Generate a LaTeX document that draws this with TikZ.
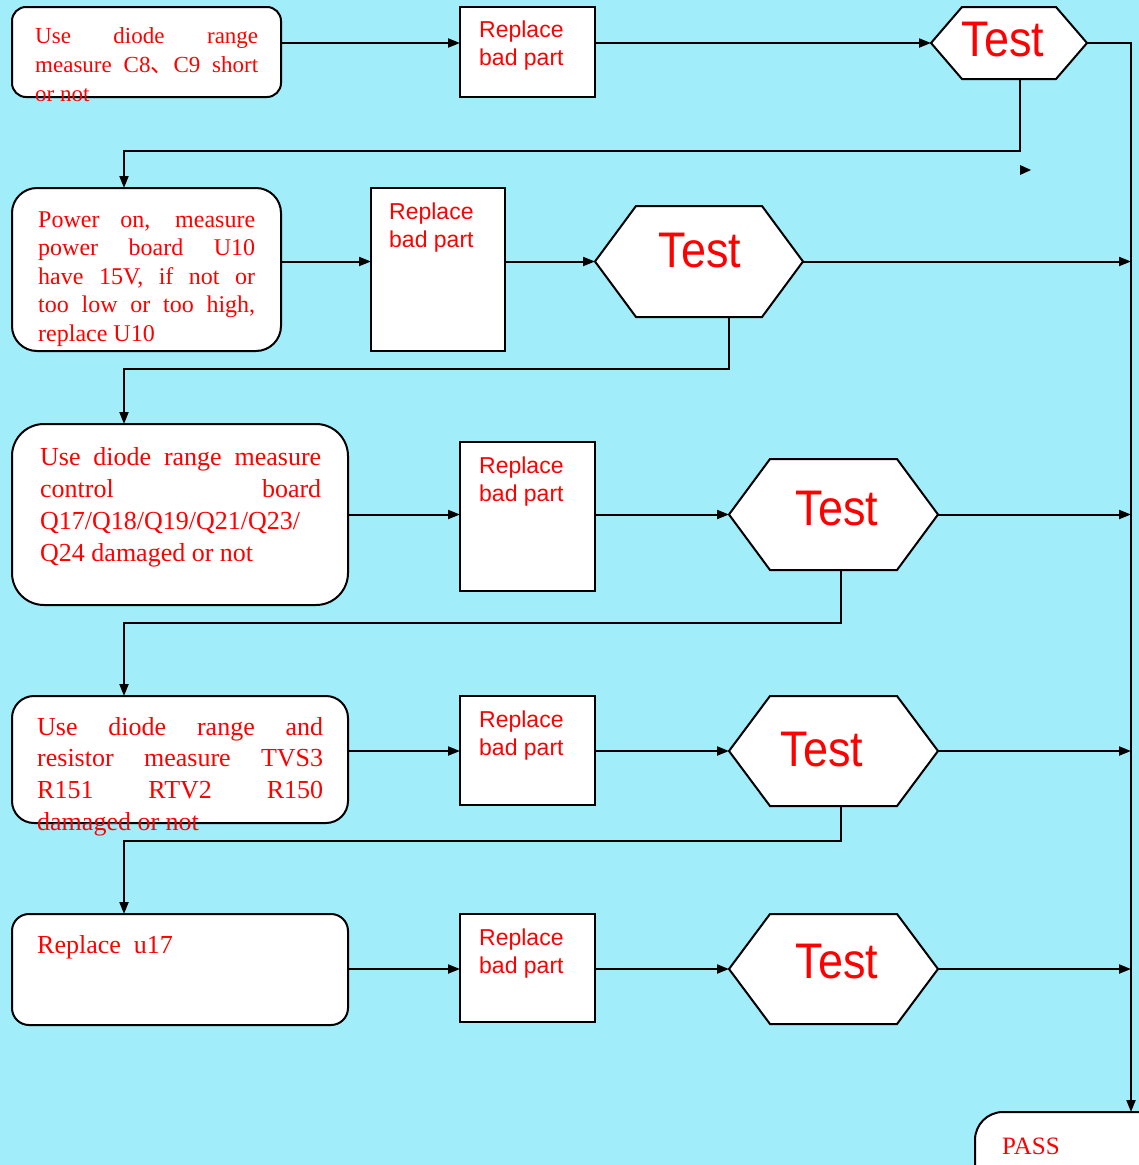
\documentclass[tikz,border=0pt]{standalone}
\usepackage{fontspec}
\setmainfont{Liberation Serif}
\newfontfamily\sansf{Liberation Sans}
\newfontfamily\testf[FakeStretch=0.9]{Liberation Sans}
\newfontfamily\cjkf{Noto Sans CJK SC}
\usetikzlibrary{arrows.meta,calc}
\definecolor{bgc}{RGB}{161,237,250}
\newcommand\hexdraw[2]{%
  \draw[fill=white,line width=2pt,line join=miter] (#1.west) -- ($(#1.north west)+(#2,0)$) -- ($(#1.north east)+(-#2,0)$) -- (#1.east) -- ($(#1.south east)+(-#2,0)$) -- ($(#1.south west)+(#2,0)$) -- cycle;}
\tikzset{
  box/.style={draw=black, fill=white, line width=2pt, rounded corners=#1, inner sep=0pt, outer sep=0pt, anchor=north west},
  repbox/.style={draw=black, fill=white, line width=2pt, inner sep=0pt, outer sep=0pt, anchor=north west},
  hexnode/.style={inner sep=0pt, outer sep=0pt, anchor=north west},
  conn/.style={draw=black, line width=2pt, -{Triangle[length=12pt,width=9pt]}},
  btext/.style={text=red, inner sep=0pt, anchor=base west},
  rtext/.style={text=red, inner sep=0pt, anchor=base west, font=\sansf\fontsize{23}{28}\selectfont},
  ttext/.style={text=red, inner sep=0pt, anchor=center, font=\testf\fontsize{50}{50}\selectfont},
}
\begin{document}
\begin{tikzpicture}[x=1pt,y=-1pt]
\fill[bgc] (0,0) rectangle (1139,1165);
\useasboundingbox (0,0) rectangle (1139,1165);
\clip (0,0) rectangle (1139,1165);

% row 1
\node[box=14pt, minimum width=269pt, minimum height=90pt] (b1) at (12,7) {};
\node[repbox, minimum width=135pt, minimum height=90pt] (r1) at (460,7) {};
\node[hexnode, minimum width=156pt, minimum height=72pt] (t1) at (931,7) {};
\hexdraw{t1}{31}
% row 2
\node[box=25pt, minimum width=269pt, minimum height=163pt] (b2) at (12,188) {};
\node[repbox, minimum width=134pt, minimum height=163pt] (r2) at (371,188) {};
\node[hexnode, minimum width=208pt, minimum height=111pt] (t2) at (595,206) {};
\hexdraw{t2}{41}
% row 3
\node[box=32pt, minimum width=336pt, minimum height=181pt] (b3) at (12,424) {};
\node[repbox, minimum width=135pt, minimum height=149pt] (r3) at (460,442) {};
\node[hexnode, minimum width=209pt, minimum height=111pt] (t3) at (729,459) {};
\hexdraw{t3}{41}
% row 4
\node[box=22pt, minimum width=336pt, minimum height=127pt] (b4) at (12,696) {};
\node[repbox, minimum width=135pt, minimum height=109pt] (r4) at (460,696) {};
\node[hexnode, minimum width=209pt, minimum height=110pt] (t4) at (729,696) {};
\hexdraw{t4}{41}
% row 5
\node[box=17pt, minimum width=336pt, minimum height=111pt] (b5) at (12,914) {};
\node[repbox, minimum width=135pt, minimum height=108pt] (r5) at (460,914) {};
\node[hexnode, minimum width=209pt, minimum height=110pt] (t5) at (729,914) {};
\hexdraw{t5}{41}
% pass
\node[box=28pt, minimum width=230pt, minimum height=90pt] (pass) at (975,1112) {};

% texts
\node[btext, font=\fontsize{23}{29}\selectfont] (x1) at (35,43) {\parbox[t]{223pt}{\makebox[223pt][s]{Use diode range}\\\makebox[223pt][s]{measure C8{\cjkf 、}C9 short}\\or not}};
\node[btext, font=\fontsize{24}{28.5}\selectfont] (x2) at (38,227) {\parbox[t]{217pt}{\makebox[217pt][s]{Power on, measure}\\\makebox[217pt][s]{power board U10}\\\makebox[217pt][s]{have 15V, if not or}\\\makebox[217pt][s]{too low or too high,}\\replace U10}};
\node[btext, font=\fontsize{26}{32.3}\selectfont] (x3) at (40,465) {\parbox[t]{281pt}{\makebox[281pt][s]{Use diode range measure}\\\makebox[281pt][s]{control board}\\Q17/Q18/Q19/Q21/Q23/\\Q24 damaged or not}};
\node[btext, font=\fontsize{26}{31.7}\selectfont] (x4) at (37,735) {\parbox[t]{286pt}{\makebox[286pt][s]{Use diode range and}\\\makebox[286pt][s]{resistor measure TVS3}\\\makebox[286pt][s]{R151 RTV2 R150}\\damaged or not}};
\node[btext, font=\fontsize{26}{31}\selectfont] (x5) at (37,953) {Replace~ u17};
\node[btext, font=\fontsize{25}{30}\selectfont] (xp) at (1002,1154) {PASS};

\node[rtext] (y1) at (479,37) {\parbox[t]{110pt}{Replace\\bad part}};
\node[rtext] (y2) at (389,219) {\parbox[t]{110pt}{Replace\\bad part}};
\node[rtext] (y3) at (479,473) {\parbox[t]{110pt}{Replace\\bad part}};
\node[rtext] (y4) at (479,727) {\parbox[t]{110pt}{Replace\\bad part}};
\node[rtext] (y5) at (479,945) {\parbox[t]{110pt}{Replace\\bad part}};

\node[ttext] (z1) at (1003,40) {Test};
\node[ttext] (z2) at (700,251) {Test};
\node[ttext] (z3) at (837,509) {Test};
\node[ttext] (z4) at (822,750) {Test};
\node[ttext] (z5) at (837,962) {Test};

% coordinates
\coordinate (rt) at (1131,43);
\coordinate (j1) at (1020,151);
\coordinate (k1) at (124,151);
\coordinate (j2) at (729,369);
\coordinate (k2) at (124,369);
\coordinate (j3) at (841,623);
\coordinate (k3) at (124,623);
\coordinate (j4) at (841,841);
\coordinate (k4) at (124,841);

% connectors row 1
\draw[conn] (b1.east |- t1.west) -- (r1.west |- t1.west);
\draw[conn] (r1.east |- t1.west) -- (t1.west);
\draw[conn] (t1.east) -- (rt) -- (rt |- pass.north);
\draw[conn] (j1 |- t1.south) -- (j1) -- (k1) -- (k1 |- b2.north);
\fill (1020,165) -- (1031,170) -- (1020,175) -- cycle;
% row 2
\draw[conn] (b2.east |- t2.west) -- (r2.west |- t2.west);
\draw[conn] (r2.east |- t2.west) -- (t2.west);
\draw[conn] (t2.east) -- (t2.east -| rt);
\draw[conn] (j2 |- t2.south) -- (j2) -- (k2) -- (k2 |- b3.north);
% row 3
\draw[conn] (b3.east |- t3.west) -- (r3.west |- t3.west);
\draw[conn] (r3.east |- t3.west) -- (t3.west);
\draw[conn] (t3.east) -- (t3.east -| rt);
\draw[conn] (j3 |- t3.south) -- (j3) -- (k3) -- (k3 |- b4.north);
% row 4
\draw[conn] (b4.east |- t4.west) -- (r4.west |- t4.west);
\draw[conn] (r4.east |- t4.west) -- (t4.west);
\draw[conn] (t4.east) -- (t4.east -| rt);
\draw[conn] (j4 |- t4.south) -- (j4) -- (k4) -- (k4 |- b5.north);
% row 5
\draw[conn] (b5.east |- t5.west) -- (r5.west |- t5.west);
\draw[conn] (r5.east |- t5.west) -- (t5.west);
\draw[conn] (t5.east) -- (t5.east -| rt);
\end{tikzpicture}
\end{document}
